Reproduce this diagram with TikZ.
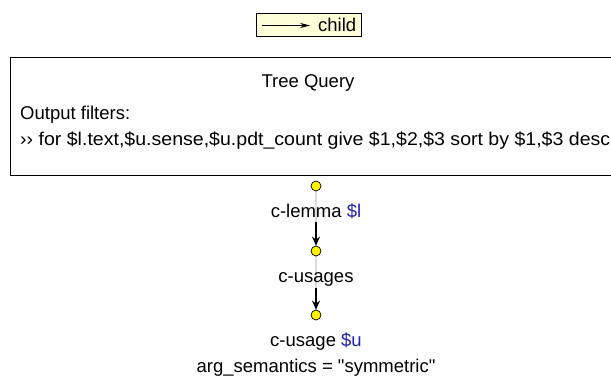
\documentclass[tikz,border=0pt]{standalone}
\usepackage{fontspec}
\setmainfont{Liberation Sans}
\newfontfamily\plainsans{Liberation Sans}
\usepackage{graphicx}
\usetikzlibrary{arrows.meta,backgrounds}
\definecolor{legendfill}{HTML}{FFFFD8}
\definecolor{varblue}{HTML}{2222B0}
\definecolor{edgegray}{HTML}{DCDCDC}
\tikzset{
  txt/.style={inner sep=0pt, font=\fontsize{18.5}{22}\selectfont},
  legendbox/.style={draw=black, line width=0.8pt, fill=legendfill, inner sep=0pt},
  vnode/.style={circle, draw=black, line width=0.7pt, fill=yellow, minimum size=10pt, inner sep=0pt},
  grayedge/.style={draw=edgegray, line width=2pt},
  childarrow/.style={draw=black, line width=1.8pt, -{Stealth[length=9pt,width=8pt]}},
  legendarrow/.style={draw=black, line width=0.8pt, -{Stealth[length=10pt,width=5pt]}},
}
\begin{document}
\begin{tikzpicture}[x=1pt, y=-1pt]
  \clip (0,0) rectangle (611,378);

  % legend
  \node[legendbox, minimum width=105pt, minimum height=23pt] (legend) at (308.5,24.5) {};
  \coordinate (legstart) at (262,25.5);
  \node[txt, anchor=base west] (childlbl) at (318,31) {child};
  \draw[legendarrow] (legstart) -- (310,25.5);

  % query box, running past the right edge
  \draw[line width=0.8pt] (625,57) -- (10,57) -- (10,175) -- (625,175);
  \node[txt, anchor=base] (title) at (308,87) {Tree Query};
  \node[txt, anchor=base west] (filterhead) at (20,119) {Output filters:};
  \node[txt, anchor=base west] (filterline) at (20,145)
    {\resizebox{590pt}{\height}{›› for \$l.text,\$u.sense,\$u.pdt\_count give \$1,\$2,\$3 sort by \$1,\$3 desc}};

  % tree nodes
  \node[vnode] (n1) at (316,186) {};
  \node[vnode] (n2) at (316,251) {};
  \node[vnode] (n3) at (316,315) {};
  \node[txt, anchor=base] (l1) at (316,217) {c-lemma \textcolor{varblue}{\$l}};
  \node[txt, anchor=base] (l2) at (316,282) {c-usages};
  \node[txt, anchor=base] (l3) at (316,346) {c-usage \textcolor{varblue}{\$u}};
  \node[txt, anchor=base] (l3attr) at (316,372) {\plainsans arg\_semantics = "symmetric"};

  % edges
  \coordinate (a1) at (316,222);
  \coordinate (a2) at (316,288);
  \begin{scope}[on background layer]
    \draw[grayedge] (n1) -- (n2);
    \draw[grayedge] (n2) -- (n3);
  \end{scope}
  \draw[childarrow] (a1) -- (n2);
  \draw[childarrow] (a2) -- (n3);
\end{tikzpicture}
\end{document}
